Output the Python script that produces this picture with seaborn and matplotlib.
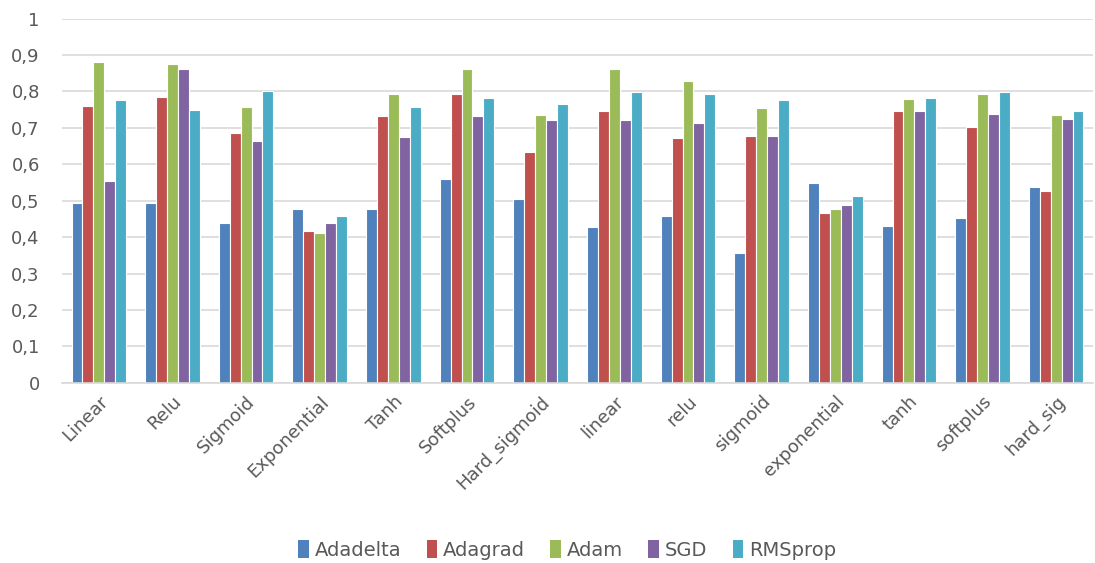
import numpy as np
import pandas as pd
import matplotlib
matplotlib.use("Agg")
import matplotlib.pyplot as plt
from matplotlib.patches import Patch
from matplotlib.ticker import FuncFormatter
import seaborn as sns

activations = ["Linear", "Relu", "Sigmoid", "Exponential", "Tanh", "Softplus",
               "Hard_sigmoid", "linear", "relu", "sigmoid", "exponential",
               "tanh", "softplus", "hard_sig"]

adadelta = [0.494, 0.494, 0.439, 0.476, 0.476, 0.560, 0.505,
            0.427, 0.457, 0.357, 0.549, 0.431, 0.453, 0.538]
adagrad = [0.761, 0.784, 0.687, 0.417, 0.732, 0.794, 0.635,
           0.745, 0.672, 0.679, 0.465, 0.745, 0.701, 0.527]
adam = [0.880, 0.875, 0.756, 0.412, 0.794, 0.861, 0.734,
        0.861, 0.828, 0.754, 0.476, 0.779, 0.794, 0.734]
sgd = [0.553, 0.861, 0.664, 0.439, 0.676, 0.732, 0.721,
       0.721, 0.712, 0.679, 0.487, 0.745, 0.738, 0.724]
rmsprop = [0.777, 0.750, 0.801, 0.457, 0.756, 0.783, 0.765,
           0.799, 0.794, 0.777, 0.512, 0.783, 0.799, 0.745]

optimizers = ["Adadelta", "Adagrad", "Adam", "SGD", "RMSprop"]
colors = ["#4F81BD", "#C0504D", "#9BBB59", "#8064A2", "#4BACC6"]

series = [adadelta, adagrad, adam, sgd, rmsprop]
df = pd.DataFrame({
    "activation": np.tile(activations, len(optimizers)),
    "optimizer": np.repeat(optimizers, len(activations)),
    "score": np.concatenate(series),
})

sns.set_style("white")
plt.rcParams["font.family"] = ["DejaVu Sans"]
text_color = "#595959"

fig = plt.figure(figsize=(10.95, 5.63), dpi=100)
ax = fig.add_axes([0.0566, 0.320, 0.9416, 0.647])

sns.barplot(data=df, x="activation", y="score", hue="optimizer",
            order=activations, hue_order=optimizers, palette=colors,
            saturation=1, width=0.74, edgecolor="white", linewidth=0.8,
            errorbar=None, legend=False, ax=ax)

ax.set_ylim(0, 1)
ax.set_xlim(-0.5, len(activations) - 0.5)
ax.set_yticks(np.arange(0, 1.01, 0.1))
ax.yaxis.set_major_formatter(FuncFormatter(
    lambda v, _: "0" if abs(v) < 1e-9 else ("1" if abs(v - 1) < 1e-9 else f"{v:.1f}".replace(".", ","))))
ax.grid(axis="y", color="#D9D9D9", linewidth=1.2)
ax.set_axisbelow(True)
for s in ["top", "right", "left"]:
    ax.spines[s].set_visible(False)
ax.spines["bottom"].set_color("#D9D9D9")
ax.spines["bottom"].set_linewidth(1.2)
ax.set_xlabel("")
ax.set_ylabel("")
ax.tick_params(axis="both", length=0, colors=text_color, labelsize=13)
ax.tick_params(axis="y", pad=16)
ax.tick_params(axis="x", pad=7)
for lbl in ax.get_xticklabels():
    lbl.set_rotation(45)
    lbl.set_ha("right")
    lbl.set_rotation_mode("anchor")

handles = [Patch(facecolor=c, edgecolor="none") for c in colors]
fig.legend(handles, optimizers, loc="center", bbox_to_anchor=(0.518, 0.023),
           ncol=5, frameon=False, fontsize=14, handlelength=0.55,
           handleheight=1.0, handletextpad=0.3, columnspacing=1.3,
           labelcolor=text_color)

fig.savefig("out.png", dpi=100)
